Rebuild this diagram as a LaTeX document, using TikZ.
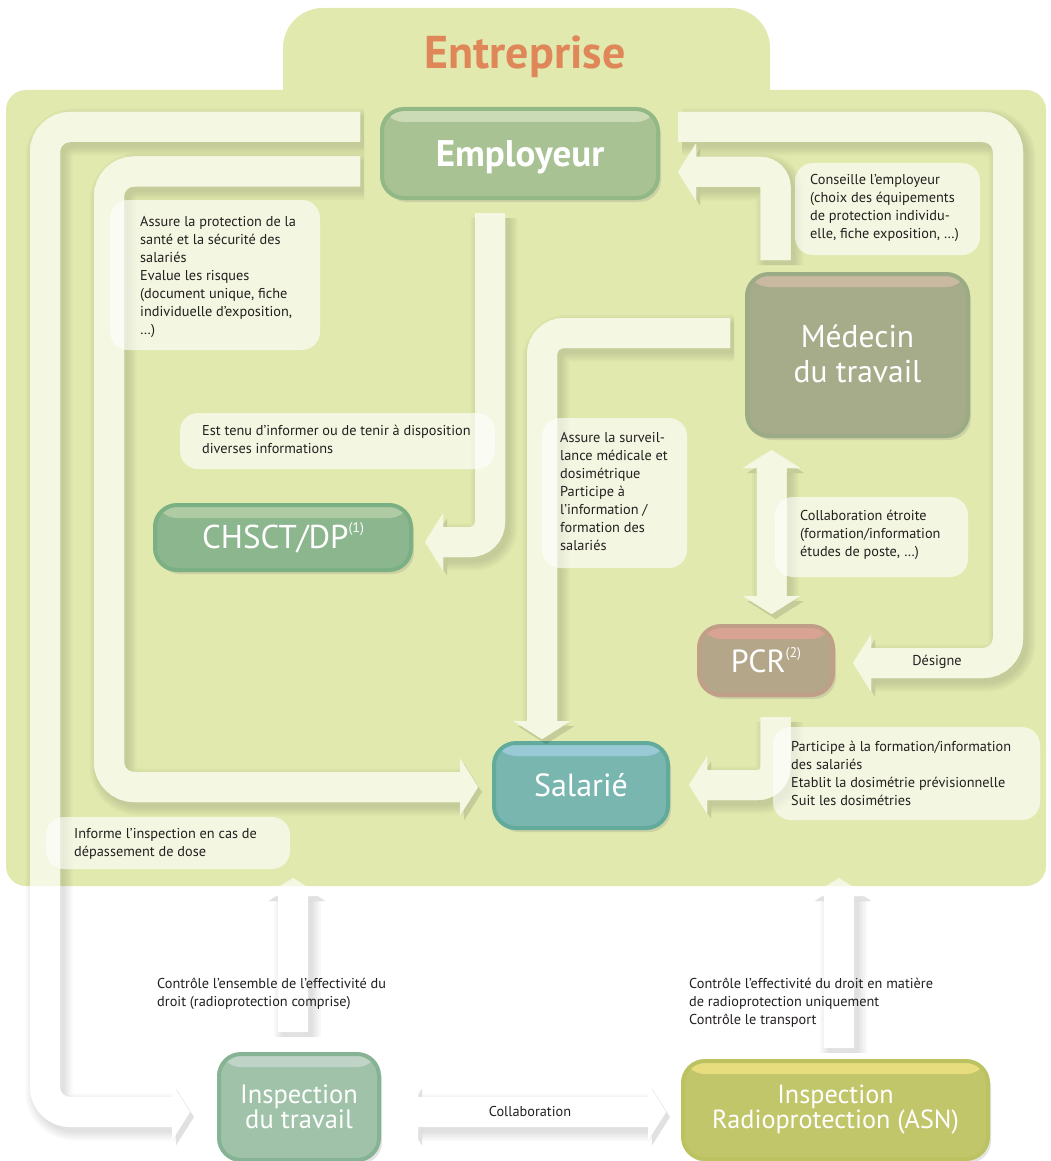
\documentclass[tikz,border=0pt]{standalone}
\usepackage{fontspec}
\setmainfont{PT Sans}
\usetikzlibrary{arrows.meta,shadows,calc}
\definecolor{bgreen}{HTML}{E1E9AE}
\definecolor{ink}{HTML}{231F20}
\definecolor{orangeT}{HTML}{E0875A}
\definecolor{empF}{HTML}{A8C294}\definecolor{empD}{HTML}{92B886}\definecolor{empH}{HTML}{CBDBB5}
\definecolor{medF}{HTML}{A6AC8A}\definecolor{medD}{HTML}{9AAB86}\definecolor{medH}{HTML}{C8B9A0}
\definecolor{chsF}{HTML}{8CB68D}\definecolor{chsD}{HTML}{7AB083}\definecolor{chsH}{HTML}{AECBA4}
\definecolor{pcrF}{HTML}{B4A688}\definecolor{pcrD}{HTML}{C09E88}\definecolor{pcrH}{HTML}{D8A393}
\definecolor{salF}{HTML}{79B6B0}\definecolor{salD}{HTML}{62AB9B}\definecolor{salH}{HTML}{98C9D4}
\definecolor{itrF}{HTML}{A0C2A9}\definecolor{itrD}{HTML}{86B393}\definecolor{itrH}{HTML}{BFD4C7}
\definecolor{asnF}{HTML}{C2C66B}\definecolor{asnD}{HTML}{BBC260}\definecolor{asnH}{HTML}{E8DD7E}
\newcommand\supx[1]{\raisebox{0.95ex}{\fontsize{14}{14}\selectfont #1}}
\newcommand\allbands{%
  \draw[bnd, rounded corners=25pt] (a0) -- (a0 -| 45,0) -- (a1 -| 45,0) -- (a1);
  \draw[bnd, rounded corners=25pt] (b0) -- (b0 -| 109,0) -- (b1 -| 109,0) -- (b1);
  \draw[bnd, rounded corners=20pt] (c0) |- (c1);
  \draw[bnd, rounded corners=25pt] (d0) -- (d0 -| 1008,0) -- (d1 -| 1008,0) -- (d1);
  \draw[bnd, rounded corners=15pt] (e0) |- (e1);
  \draw[bnd, rounded corners=22pt] (f0) -| (f1);
  \draw[dbnd] (g0) -- (g1);
  \draw[bnd, rounded corners=18pt] (h0) |- (h1);
  \draw[bnd] (i0) -- (i1);
  \draw[bnd] (j0) -- (j1);
  \draw[dbnd] (k0) -- (k1);}
\begin{document}
\begin{tikzpicture}[x=1pt,y=-1pt,
  nbox/.style n args={3}{rounded corners=22pt, fill=#1, draw=#2, line width=4pt, text=white,
    align=center, inner sep=0pt,
    drop shadow={shadow xshift=3pt, shadow yshift=-4pt, opacity=0.22},
    path picture={\fill[#3] ([yshift=-1pt]path picture bounding box.north west) rectangle ([yshift=-13pt]path picture bounding box.north east);}},
  tip/.tip={Triangle[length=18pt,width=57pt,line width=0pt]},
  bnd/.style={line width=30pt, draw=white, -tip},
  dbnd/.style={bnd, tip-tip},
  tbox/.style={fill=white, fill opacity=0.62, rounded corners=18pt},
  lbl/.style={font=\fontsize{14.3}{18}\selectfont, text=ink, align=left, inner sep=0pt, anchor=north west},
  clbl/.style={font=\fontsize{14.3}{18}\selectfont, text=ink, inner sep=0pt}]
\useasboundingbox (0,0) rectangle (1051,1161);
\fill[white] (0,0) rectangle (1051,1161);
% Entreprise region
\fill[bgreen, rounded corners=40pt] (283,200) rectangle (770,8);
\fill[bgreen, rounded corners=20pt] (6,90) rectangle (1046,886);
\node[font=\bfseries\fontsize{46}{48}\selectfont, text=orangeT] (ent) at (525,57) {Entreprise};

% actors
\node[nbox={empF}{empD}{empH}, minimum width=276pt, minimum height=89pt, text depth=0pt,
  font=\bfseries\fontsize{37}{38}\selectfont] (emp) at (520,153.5) {Employeur};
\node[nbox={medF}{medD}{medH}, minimum width=221pt, minimum height=162pt,
  font=\fontsize{31.5}{35}\selectfont] (med) at (857.5,355) {\raisebox{3pt}{Médecin}\\\raisebox{3pt}{du travail}};
\node[nbox={chsF}{chsD}{chsH}, minimum width=256pt, minimum height=65pt,
  font=\fontsize{33}{34}\selectfont] (chs) at (283,537.5) {CHSCT/DP\supx{(1)}};
\node[nbox={pcrF}{pcrD}{pcrH}, minimum width=134pt, minimum height=69pt,
  font=\fontsize{32}{34}\selectfont] (pcr) at (766,660.5) {PCR\supx{(2)}};
\node[nbox={salF}{salD}{salH}, minimum width=174pt, minimum height=85pt,
  font=\fontsize{32}{34}\selectfont] (sal) at (581,785.5) {Salarié};
\node[nbox={itrF}{itrD}{itrH}, minimum width=160pt, minimum height=106pt,
  font=\fontsize{26.5}{24}\selectfont] (itr) at (299,1107) {\raisebox{-3pt}{Inspection}\\\raisebox{-3pt}{du travail}};
\node[nbox={asnF}{asnD}{asnH}, minimum width=305pt, minimum height=98pt,
  font=\fontsize{26.2}{23}\selectfont] (asn) at (835.5,1110) {\raisebox{-1pt}{Inspection}\\\raisebox{-1pt}{Radioprotection (ASN)}};

% connector end points
\coordinate (a0) at ($(emp.west)+(-20,-26.5)$);
\coordinate (a1) at ($(itr.west)+(-27,5)$);
\coordinate (b0) at ($(emp.west)+(-20,18)$);
\coordinate (b1) at ($(sal.west)+(-14,1.5)$);
\coordinate (c0) at ($(emp.south)+(-30,13)$);
\coordinate (c1) at ($(chs.east)+(12,4.5)$);
\coordinate (d0) at ($(emp.east)+(18,-26.5)$);
\coordinate (d1) at ($(pcr.east)+(18,2.5)$);
\coordinate (e0) at ($(med.north)+(-82,-12)$);
\coordinate (e1) at ($(emp.east)+(18,18.5)$);
\coordinate (f0) at ($(med.west)+(-15,-22)$);
\coordinate (f1) at ($(sal.north)+(-39,-2)$);
\coordinate (g0) at ($(med.south)+(-86,12)$);
\coordinate (g1) at ($(pcr.north)+(5.5,-10)$);
\coordinate (h0) at ($(pcr.south)+(9.5,20)$);
\coordinate (h1) at ($(sal.east)+(19,-0.5)$);
\coordinate (i0) at ($(itr.north)+(-6,-20)$);
\coordinate (i1) at (293,878);
\coordinate (j0) at ($(asn.north)+(3.5,-11)$);
\coordinate (j1) at (839,878);
\coordinate (k0) at ($(itr.east)+(19,5)$);
\coordinate (k1) at ($(asn.west)+(-15,2)$);

% soft shadows of the connectors
\foreach \w in {31,35,39,43,47} {
  \begin{scope}[transform canvas={shift={(4pt,-5pt)}},
      bnd/.style={line width=\w pt, draw=black, draw opacity=0.022, fill opacity=0.022, -tip}]
    \allbands
  \end{scope}
}
% opaque underlay (hides the shadow beneath each band)
\allbands
\begin{scope}
  \clip[rounded corners=20pt] (6,90) rectangle (1046,886);
  \begin{scope}[bnd/.style={line width=30pt, draw=bgreen, -tip}]
    \allbands
  \end{scope}
\end{scope}
% connectors
\begin{scope}[transparency group, opacity=0.64]
  \allbands
\end{scope}

% text boxes
\fill[tbox] (110,200) rectangle (320,350);
\fill[tbox] (180,413) rectangle (495,469);
\fill[tbox] (795,163) rectangle (980,255);
\fill[tbox] (542,418) rectangle (687,568);
\fill[tbox] (775,497) rectangle (968,577);
\fill[tbox] (773,727) rectangle (1040,820);
\fill[tbox] (46,817) rectangle (290,869);

% labels
\node[lbl] (t1) at (140,216) {Assure la protection de la\\santé et la sécurité des\\salariés\\Evalue les risques\\(document unique, fiche\\individuelle d’exposition,\\…)};
\node[lbl] (t2) at (202,425) {Est tenu d’informer ou de tenir à disposition\\diverses informations};
\node[lbl] (t3) at (810,174) {Conseille l’employeur\\(choix des équipements\\de protection individu-\\elle, fiche exposition, …)};
\node[lbl] (t4) at (560,432) {Assure la surveil-\\lance médicale et\\dosimétrique\\Participe à\\l’information /\\formation des\\salariés};
\node[lbl] (t5) at (800,510) {Collaboration étroite\\(formation/information\\études de poste, …)};
\node[lbl] (t6) at (791,741) {Participe à la formation/information\\des salariés\\Etablit la dosimétrie prévisionnelle\\Suit les dosimétries};
\node[lbl] (t7) at (74,828) {Informe l’inspection en cas de\\dépassement de dose};
\node[lbl] (t8) at (157,978) {Contrôle l’ensemble de l’effectivité du\\droit (radioprotection comprise)};
\node[lbl] (t9) at (689,978) {Contrôle l’effectivité du droit en matière\\de radioprotection uniquement\\Contrôle le transport};
\node[clbl] (t10) at (530,1111) {Collaboration};
\node[clbl] (t11) at (937,662) {Désigne};
\end{tikzpicture}
\end{document}
